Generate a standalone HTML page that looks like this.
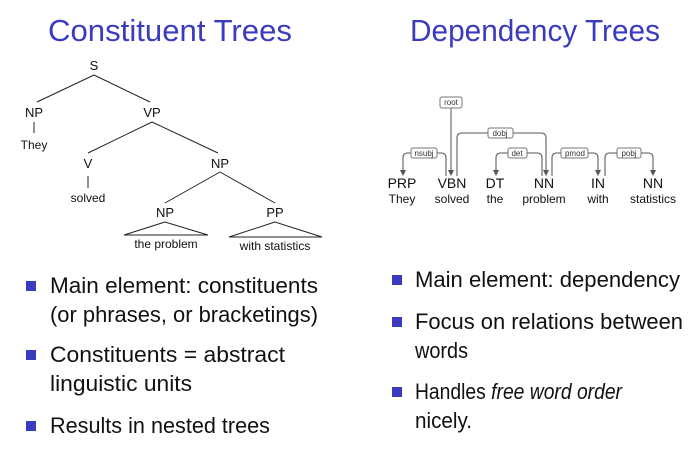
<!DOCTYPE html>
<html><head><style>
body{margin:0;background:#fff}
svg{display:block}
.t{font-family:"Liberation Sans",sans-serif;fill:#3b3bbf;font-size:31px}
.n{font-family:"Liberation Sans",sans-serif;font-size:13px;fill:#111;text-anchor:middle}
.w{font-family:"Liberation Sans",sans-serif;font-size:12px;fill:#111;text-anchor:middle}
.d{font-family:"Liberation Sans",sans-serif;font-size:14px;fill:#111;text-anchor:middle}
.l{font-family:"Liberation Sans",sans-serif;font-size:8px;fill:#333;text-anchor:middle}
.b{font-family:"Liberation Sans",sans-serif;font-size:22px;fill:#111}
.arc{fill:none;stroke:#777;stroke-width:1.3}
.box{fill:#fff;stroke:#777;stroke-width:1}
</style></head><body>
<svg width="693" height="450" viewBox="0 0 693 450">
<text class="t" x="48" y="41" textLength="244" lengthAdjust="spacingAndGlyphs">Constituent Trees</text>
<text class="t" x="410" y="41" textLength="250" lengthAdjust="spacingAndGlyphs">Dependency Trees</text>
<g stroke="#222" stroke-width="1" fill="none">
<line x1="94" y1="75" x2="37" y2="102"/><line x1="94" y1="75" x2="150" y2="102"/>
<line x1="34" y1="122" x2="34" y2="133"/>
<line x1="152" y1="122" x2="88" y2="153"/><line x1="152" y1="122" x2="218" y2="153"/>
<line x1="88" y1="176" x2="88" y2="188"/>
<line x1="220" y1="172" x2="165" y2="203"/><line x1="220" y1="172" x2="275" y2="203"/>
<polygon points="165,222 124,235 208,235"/><polygon points="275,222 229,237 322,237"/>
</g>
<text class="n" x="94" y="70">S</text>
<text class="n" x="34" y="117">NP</text><text class="w" x="34" y="149">They</text>
<text class="n" x="152" y="117">VP</text>
<text class="n" x="88" y="168">V</text><text class="w" x="88" y="202">solved</text>
<text class="n" x="220" y="168">NP</text>
<text class="n" x="165" y="217">NP</text><text class="n" x="275" y="217">PP</text>
<text class="w" x="166" y="248">the problem</text><text class="w" x="275" y="250">with statistics</text>

<g>
<line class="arc" x1="451" y1="108" x2="451" y2="171"/>
<path class="arc" d="M403 171 V158 Q403 153 408 153 H441 Q446 153 446 158 V176"/>
<path class="arc" d="M457 176 V138 Q457 133 462 133 H541 Q546 133 546 138 V171"/>
<path class="arc" d="M496 171 V158 Q496 153 501 153 H537 Q542 153 542 158 V176"/>
<path class="arc" d="M552 176 V158 Q552 153 557 153 H593 Q598 153 598 158 V171"/>
<path class="arc" d="M605 176 V158 Q605 153 610 153 H648 Q653 153 653 158 V171"/>
<g fill="#555">
<polygon points="448,170 454,170 451,176"/><polygon points="400,170 406,170 403,176"/>
<polygon points="543,170 549,170 546,176"/><polygon points="493,170 499,170 496,176"/>
<polygon points="595,170 601,170 598,176"/><polygon points="650,170 656,170 653,176"/>
</g>
<rect class="box" x="440" y="97" width="22" height="11" rx="2"/><text class="l" x="451" y="105">root</text>
<rect class="box" x="411" y="148" width="26" height="10" rx="2"/><text class="l" x="424" y="156">nsubj</text>
<rect class="box" x="488" y="128" width="25" height="10" rx="2"/><text class="l" x="500" y="136">dobj</text>
<rect class="box" x="508" y="148" width="19" height="10" rx="2"/><text class="l" x="517" y="156">det</text>
<rect class="box" x="561" y="148" width="27" height="10" rx="2"/><text class="l" x="575" y="156">pmod</text>
<rect class="box" x="617" y="148" width="24" height="10" rx="2"/><text class="l" x="629" y="156">pobj</text>
</g>
<text class="d" x="402" y="188">PRP</text><text class="w" x="402" y="203">They</text>
<text class="d" x="452" y="188">VBN</text><text class="w" x="452" y="203">solved</text>
<text class="d" x="495" y="188">DT</text><text class="w" x="495" y="203">the</text>
<text class="d" x="544" y="188">NN</text><text class="w" x="544" y="203">problem</text>
<text class="d" x="598" y="188">IN</text><text class="w" x="598" y="203">with</text>
<text class="d" x="653" y="188">NN</text><text class="w" x="653" y="203">statistics</text>

<g fill="#3b3bbf">
<rect x="26" y="281" width="10" height="10"/><rect x="26" y="350" width="10" height="10"/><rect x="26" y="421" width="10" height="10"/>
<rect x="392" y="275" width="10" height="10"/><rect x="392" y="317" width="10" height="10"/><rect x="392" y="387" width="10" height="10"/>
</g>
<text class="b" x="50" y="293" textLength="268" lengthAdjust="spacingAndGlyphs">Main element: constituents</text>
<text class="b" x="50" y="322" textLength="268" lengthAdjust="spacingAndGlyphs">(or phrases, or bracketings)</text>
<text class="b" x="50" y="362" textLength="235" lengthAdjust="spacingAndGlyphs">Constituents = abstract</text>
<text class="b" x="50" y="391" textLength="142" lengthAdjust="spacingAndGlyphs">linguistic units</text>
<text class="b" x="50" y="433" textLength="220" lengthAdjust="spacingAndGlyphs">Results in nested trees</text>
<text class="b" x="415" y="287" textLength="265" lengthAdjust="spacingAndGlyphs">Main element: dependency</text>
<text class="b" x="415" y="329" textLength="268" lengthAdjust="spacingAndGlyphs">Focus on relations between</text>
<text class="b" x="415" y="358" textLength="53" lengthAdjust="spacingAndGlyphs">words</text>
<text class="b" x="415" y="399" textLength="207" lengthAdjust="spacingAndGlyphs">Handles <tspan font-style="italic">free word order</tspan></text>
<text class="b" x="415" y="428" textLength="57" lengthAdjust="spacingAndGlyphs">nicely.</text>
</svg>
</body></html>
